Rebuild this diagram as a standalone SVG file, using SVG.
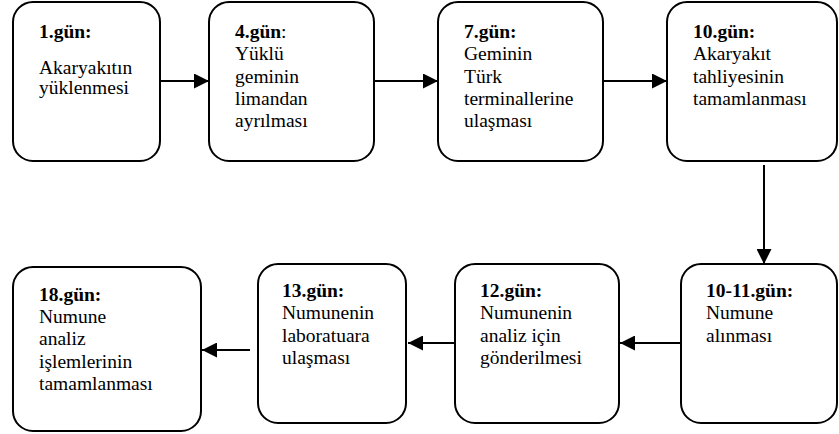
<svg xmlns="http://www.w3.org/2000/svg" width="839" height="434" viewBox="0 0 839 434">
  <defs>
    <marker id="arrow" markerUnits="userSpaceOnUse" markerWidth="15" markerHeight="15" refX="15" refY="7.5" orient="auto">
      <path d="M0,0 L15,7.5 L0,15 Z" fill="#000000"/>
    </marker>
  </defs>
  <rect width="839" height="434" fill="#ffffff"/>

  <g id="connectors" stroke="#000000" stroke-width="2" fill="none" marker-end="url(#arrow)">
    <line x1="161" y1="81" x2="209" y2="81"/>
    <line x1="374" y1="81" x2="438" y2="81"/>
    <line x1="603" y1="81" x2="667" y2="81"/>
    <line x1="764" y1="165" x2="764" y2="264"/>
    <line x1="681" y1="343" x2="620" y2="343"/>
    <line x1="459" y1="343" x2="408" y2="343"/>
    <line x1="250" y1="350" x2="202" y2="350"/>
  </g>

  <g id="day1">
    <rect x="13" y="2" width="147" height="159" rx="20" fill="#ffffff" stroke="#000000" stroke-width="2"/>
    <text x="39" y="38" font-family="Liberation Serif" font-size="19.5" font-weight="bold">1.gün:</text>
    <text x="39" y="74" font-family="Liberation Serif" font-size="19.5">Akaryakıtın</text>
    <text x="39" y="94" font-family="Liberation Serif" font-size="19.5">yüklenmesi</text>
  </g>

  <g id="day4">
    <rect x="209" y="2" width="165" height="159" rx="20" fill="#ffffff" stroke="#000000" stroke-width="2"/>
    <text x="235" y="38" font-family="Liberation Serif" font-size="19.5"><tspan font-weight="bold">4.gün</tspan>:</text>
    <text x="235" y="60" font-family="Liberation Serif" font-size="19.5">Yüklü</text>
    <text x="235" y="83" font-family="Liberation Serif" font-size="19.5">geminin</text>
    <text x="235" y="105" font-family="Liberation Serif" font-size="19.5">limandan</text>
    <text x="235" y="127" font-family="Liberation Serif" font-size="19.5">ayrılması</text>
  </g>

  <g id="day7">
    <rect x="438" y="2" width="165" height="159" rx="20" fill="#ffffff" stroke="#000000" stroke-width="2"/>
    <text x="464" y="38" font-family="Liberation Serif" font-size="19.5" font-weight="bold">7.gün:</text>
    <text x="464" y="60" font-family="Liberation Serif" font-size="19.5">Geminin</text>
    <text x="464" y="83" font-family="Liberation Serif" font-size="19.5">Türk</text>
    <text x="464" y="105" font-family="Liberation Serif" font-size="19.5">terminallerine</text>
    <text x="464" y="127" font-family="Liberation Serif" font-size="19.5">ulaşması</text>
  </g>

  <g id="day10">
    <rect x="667" y="2" width="170" height="159" rx="20" fill="#ffffff" stroke="#000000" stroke-width="2"/>
    <text x="693" y="38" font-family="Liberation Serif" font-size="19.5" font-weight="bold">10.gün:</text>
    <text x="693" y="60" font-family="Liberation Serif" font-size="19.5">Akaryakıt</text>
    <text x="693" y="83" font-family="Liberation Serif" font-size="19.5">tahliyesinin</text>
    <text x="693" y="105" font-family="Liberation Serif" font-size="19.5">tamamlanması</text>
  </g>

  <g id="day10-11">
    <rect x="681" y="264" width="156" height="159" rx="20" fill="#ffffff" stroke="#000000" stroke-width="2"/>
    <text x="706" y="297" font-family="Liberation Serif" font-size="19.5" font-weight="bold">10-11.gün:</text>
    <text x="706" y="319" font-family="Liberation Serif" font-size="19.5">Numune</text>
    <text x="706" y="342" font-family="Liberation Serif" font-size="19.5">alınması</text>
  </g>

  <g id="day12">
    <rect x="455" y="264" width="164" height="159" rx="20" fill="#ffffff" stroke="#000000" stroke-width="2"/>
    <text x="480" y="297" font-family="Liberation Serif" font-size="19.5" font-weight="bold">12.gün:</text>
    <text x="480" y="319" font-family="Liberation Serif" font-size="19.5">Numunenin</text>
    <text x="480" y="342" font-family="Liberation Serif" font-size="19.5">analiz için</text>
    <text x="480" y="364" font-family="Liberation Serif" font-size="19.5">gönderilmesi</text>
  </g>

  <g id="day13">
    <rect x="258" y="264" width="148" height="159" rx="20" fill="#ffffff" stroke="#000000" stroke-width="2"/>
    <text x="282" y="297" font-family="Liberation Serif" font-size="19.5" font-weight="bold">13.gün:</text>
    <text x="282" y="319" font-family="Liberation Serif" font-size="19.5">Numunenin</text>
    <text x="282" y="342" font-family="Liberation Serif" font-size="19.5">laboratuara</text>
    <text x="282" y="364" font-family="Liberation Serif" font-size="19.5">ulaşması</text>
  </g>

  <g id="day18">
    <rect x="13" y="267" width="188" height="164" rx="20" fill="#ffffff" stroke="#000000" stroke-width="2"/>
    <text x="39" y="301" font-family="Liberation Serif" font-size="19.5" font-weight="bold">18.gün:</text>
    <text x="39" y="323" font-family="Liberation Serif" font-size="19.5">Numune</text>
    <text x="39" y="345" font-family="Liberation Serif" font-size="19.5">analiz</text>
    <text x="39" y="368" font-family="Liberation Serif" font-size="19.5">işlemlerinin</text>
    <text x="39" y="390" font-family="Liberation Serif" font-size="19.5">tamamlanması</text>
  </g>
</svg>
